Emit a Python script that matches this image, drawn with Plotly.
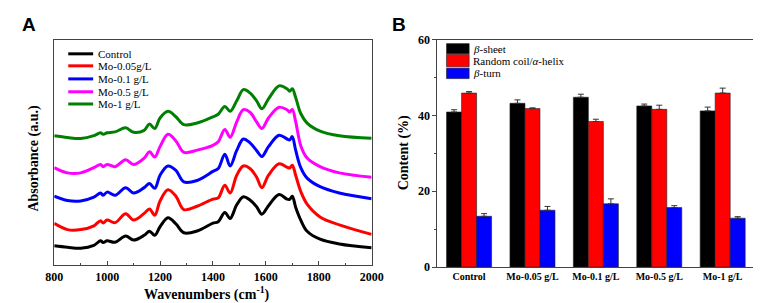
import plotly.graph_objects as go

# ---------------- Panel A data (FTIR spectra, absorbance in a.u.) ----------------
wavenumber = [800, 850, 900, 950, 975, 985, 1000, 1030, 1070, 1100, 1140, 1160, 1180, 1200,
              1230, 1260, 1290, 1340, 1400, 1420, 1445, 1465, 1490, 1515, 1540, 1565, 1585,
              1610, 1650, 1680, 1690, 1700, 1713, 1732, 1756, 1805, 1878, 2000]
control = [20.3, 18.8, 17.8, 20.8, 25.6, 23.8, 25.6, 24.0, 30.6, 26.3, 31.3, 35.6, 31.3, 40.3,
           49.8, 43.3, 34.0, 35.8, 44.0, 45.6, 55.3, 49.0, 63.3, 71.8, 68.3, 61.3, 53.5,
           62.3, 74.0, 69.3, 69.0, 72.3, 60.6, 47.3, 35.6, 27.3, 22.3, 18.3]
mo_005 = [43.8, 37.3, 37.3, 41.3, 46.6, 44.3, 47.3, 44.6, 54.0, 47.3, 54.3, 59.0, 52.3, 67.3,
          79.0, 72.3, 58.3, 61.8, 69.3, 70.6, 83.8, 75.6, 94.3, 104.0, 101.3, 92.3, 81.3,
          94.3, 106.3, 102.8, 101.8, 104.8, 94.0, 77.3, 64.0, 50.6, 42.3, 32.3]
mo_01 = [72.3, 67.8, 67.3, 71.3, 75.6, 73.3, 76.6, 73.3, 81.3, 75.6, 81.3, 85.6, 80.6, 94.3,
         104.0, 99.3, 87.3, 88.8, 98.3, 101.3, 116.3, 104.0, 120.3, 132.3, 128.3, 120.3, 114.0,
         124.3, 136.3, 132.3, 131.3, 134.8, 120.3, 102.3, 91.3, 82.3, 75.6, 69.6]
mo_05 = [102.3, 96.8, 96.8, 102.3, 105.6, 103.3, 105.6, 103.3, 110.6, 105.6, 112.3, 119.0, 113.3, 124.3,
         137.3, 130.3, 118.3, 120.6, 125.6, 129.3, 142.3, 134.0, 150.3, 163.0, 160.3, 150.3, 143.3,
         154.3, 165.6, 163.0, 160.6, 163.3, 150.3, 125.3, 112.3, 103.3, 96.8, 92.3]
mo_1 = [135.6, 133.8, 132.8, 135.8, 138.8, 137.3, 138.8, 139.8, 144.0, 139.3, 141.3, 148.0, 143.3, 154.3,
        161.3, 155.6, 147.3, 149.0, 155.6, 158.3, 166.3, 161.3, 172.3, 184.0, 180.6, 172.3, 164.0,
        174.3, 188.0, 185.0, 182.3, 185.0, 175.6, 159.0, 149.0, 140.6, 135.6, 133.0]
spectra = [control, mo_005, mo_01, mo_05, mo_1]
spectra_names = ["Control", "Mo-0.05g/L", "Mo-0.1 g/L", "Mo-0.5 g/L", "Mo-1 g/L"]
spectra_colors = ["#000000", "#FF0000", "#0000FF", "#FF00FF", "#008000"]

# ---------------- Panel B data (secondary structure content, %) ----------------
groups = ["Control", "Mo-0.05 g/L", "Mo-0.1 g/L", "Mo-0.5 g/L", "Mo-1 g/L"]
beta_sheet = [40.9, 43.2, 44.8, 42.5, 41.2]
beta_sheet_err = [0.6, 0.9, 0.8, 0.5, 1.0]
random_coil = [45.9, 41.8, 38.4, 41.6, 45.9]
random_coil_err = [0.4, 0.2, 0.6, 1.1, 1.3]
beta_turn = [13.4, 15.0, 16.7, 15.7, 12.9]
beta_turn_err = [0.7, 1.0, 1.3, 0.5, 0.4]
bar_series = [
    ("<i>β</i>-sheet", beta_sheet, beta_sheet_err, "#000000"),
    ("Random coil/<i>α</i>-helix", random_coil, random_coil_err, "#FF0000"),
    ("<i>β</i>-turn", beta_turn, beta_turn_err, "#0000FF"),
]

W, H = 761, 303
SERIF = "Liberation Serif, Times New Roman, serif"
AXC = "#444444"

fig = go.Figure()

for ys, name, col in zip(spectra, spectra_names, spectra_colors):
    fig.add_trace(go.Scatter(x=wavenumber, y=ys, name=name, mode="lines",
                             line=dict(color=col, width=3, shape="spline", smoothing=1.0),
                             xaxis="x", yaxis="y", showlegend=False))

for name, vals, errs, col in bar_series:
    fig.add_trace(go.Bar(x=groups, y=vals, name=name, marker=dict(color=col, line=dict(color="#222", width=0.6)),
                         error_y=dict(type="data", array=errs, arrayminus=[0] * len(errs), symmetric=False,
                                      color="#333333", thickness=1, width=3),
                         xaxis="x2", yaxis="y2", showlegend=False))

def px_x(p):
    return p / W

def px_y(p):
    return 1 - p / H

fig.update_layout(
    width=W, height=H, margin=dict(l=0, r=0, t=0, b=0),
    paper_bgcolor="white", plot_bgcolor="white",
    barmode="group", bargap=0.29, bargroupgap=0,
    font=dict(family=SERIF, color="#000"),
    xaxis=dict(domain=[px_x(38.3), px_x(364.7)], range=[800, 2000], dtick=200,
               ticks="inside", ticklen=4, tickwidth=1, tickcolor=AXC,
               minor=dict(dtick=100, ticks="inside", ticklen=2, tickcolor=AXC),
               showline=True, linecolor=AXC, linewidth=1, mirror=True, showgrid=False, zeroline=False,
               tickfont=dict(family=SERIF, size=12, weight="bold", color="#000"), anchor="y"),
    yaxis=dict(domain=[px_y(262.3), px_y(25.7)], range=[0, 236.6], showticklabels=False, ticks="",
               showline=True, linecolor=AXC, linewidth=1, mirror=True, showgrid=False, zeroline=False,
               anchor="x"),
    xaxis2=dict(domain=[px_x(432.3), px_x(758.3)], showline=True, linecolor=AXC, linewidth=1, mirror=True,
                ticks="", showgrid=False, zeroline=False, anchor="y2",
                tickfont=dict(family=SERIF, size=10, weight="bold", color="#000")),
    yaxis2=dict(domain=[px_y(264.3), px_y(25.8)], range=[0, 60], dtick=20, ticks="outside", ticklen=4,
                tickcolor=AXC, minor=dict(dtick=10, ticks="outside", ticklen=2, tickcolor=AXC),
                showline=True, linecolor=AXC, linewidth=1, mirror=True, showgrid=False, zeroline=False,
                tickfont=dict(family=SERIF, size=12, weight="bold", color="#000"), anchor="x2"),
)

ann = []
shapes = []
# Panel letters
ann.append(dict(text="<b>A</b>", x=px_x(3), y=px_y(10), xref="paper", yref="paper", xanchor="left",
                yanchor="middle", showarrow=False, font=dict(family="Liberation Sans", size=19, color="#000")))
ann.append(dict(text="<b>B</b>", x=px_x(384), y=px_y(10), xref="paper", yref="paper", xanchor="left",
                yanchor="middle", showarrow=False, font=dict(family="Liberation Sans", size=19, color="#000")))
# Axis titles
ann.append(dict(text="<b>Wavenumbers (cm<sup>-1</sup>)</b>", x=px_x(195), y=px_y(292), xref="paper", yref="paper",
                xanchor="center", yanchor="middle", showarrow=False, font=dict(family=SERIF, size=14, color="#000")))
ann.append(dict(text="<b>Absorbance (a.u.)</b>", x=px_x(18), y=px_y(150), xref="paper", yref="paper",
                xanchor="center", yanchor="middle", textangle=-90, showarrow=False,
                font=dict(family=SERIF, size=14, color="#000")))
ann.append(dict(text="<b>Content (%)</b>", x=px_x(398), y=px_y(145), xref="paper", yref="paper",
                xanchor="center", yanchor="middle", textangle=-90, showarrow=False,
                font=dict(family=SERIF, size=14, color="#000")))

# Legend A (lines)
rows_a = [40.7, 53.3, 67.0, 80.5, 93.3]
for name, col, yy in zip(spectra_names, spectra_colors, rows_a):
    shapes.append(dict(type="line", xref="paper", yref="paper", x0=px_x(52.7), x1=px_x(78.3),
                       y0=px_y(yy), y1=px_y(yy), line=dict(color=col, width=3)))
    ann.append(dict(text=name, x=px_x(81.5), y=px_y(yy), xref="paper", yref="paper", xanchor="left",
                    yanchor="middle", showarrow=False, font=dict(family=SERIF, size=11, color="#000")))

# Legend B (swatches)
rows_b = [(30.0, 40.7), (41.3, 54.3), (55.7, 66.7)]
for (name, vals, errs, col), (y0, y1) in zip(bar_series, rows_b):
    shapes.append(dict(type="rect", xref="paper", yref="paper", x0=px_x(441.7), x1=px_x(465),
                       y0=px_y(y1), y1=px_y(y0), fillcolor=col, line=dict(color="#222", width=0.6)))
    ann.append(dict(text=name, x=px_x(466.5), y=px_y((y0 + y1) / 2), xref="paper", yref="paper",
                    xanchor="left", yanchor="middle", showarrow=False,
                    font=dict(family=SERIF, size=11, color="#000")))

fig.update_layout(annotations=ann, shapes=shapes)
fig.write_html("out.html")
